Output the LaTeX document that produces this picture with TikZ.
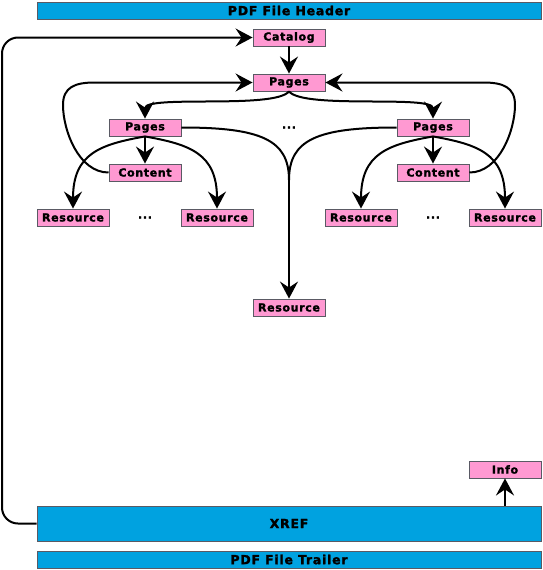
\documentclass[tikz,border=0pt]{standalone}
\usepackage{fontspec}
\usetikzlibrary{arrows.meta}
\newfontfamily\labelfont{DejaVu Sans Bold}[LetterSpace=6, FakeBold=1.8]
\definecolor{barblue}{RGB}{0,162,224}
\definecolor{objpink}{RGB}{255,153,210}
\definecolor{edgegray}{RGB}{90,90,100}
\tikzset{
  obj/.style={draw=edgegray, line width=0.9pt, fill=objpink, minimum width=72pt,
    minimum height=17pt, inner sep=0pt, font=\labelfont\fontsize{11}{12}\selectfont},
  bar/.style={draw=edgegray, line width=0.9pt, fill=barblue, minimum width=504pt,
    minimum height=17pt, inner sep=0pt, font=\labelfont\fontsize{12.5}{13}\selectfont},
  dots/.style={inner sep=0pt, font=\labelfont\fontsize{11}{12}\selectfont},
  link/.style={line width=2pt, black},
  arr/.style={link, -{Stealth[length=17pt,width=18pt,inset=6pt]}},
}
\begin{document}
\begin{tikzpicture}[x=1pt,y=-1pt]
\useasboundingbox (0,0) rectangle (542,570);

% file sections
\node[bar] (hdr) at (289,10.5) {PDF File Header};
\node[bar, minimum height=35pt] (xref) at (289,523.5) {XREF};
\node[bar] (trl) at (289,559.5) {PDF File Trailer};

% object tree
\node[obj] (cat) at (289,37.5) {Catalog};
\node[obj] (pg) at (289,82.5) {Pages};
\node[obj] (lpg) at (145,127.5) {Pages};
\node[obj] (rpg) at (433,127.5) {Pages};
\node[dots] (mdots) at (289,127.5) {...};
\node[obj] (lct) at (145,172.5) {Content};
\node[obj] (rct) at (433,172.5) {Content};
\node[obj] (r1) at (73,217.5) {Resource};
\node[obj] (r2) at (217,217.5) {Resource};
\node[obj] (r3) at (361,217.5) {Resource};
\node[obj] (r4) at (505,217.5) {Resource};
\node[dots] (ldots) at (145,217.5) {...};
\node[dots] (rdots) at (433,217.5) {...};
\node[obj] (rb) at (289,307.5) {Resource};
\node[obj] (info) at (505,469.5) {Info};

\coordinate (lc) at (2,0);
\coordinate (mrg) at (289,180);

% connectors
\draw[arr, rounded corners=16pt] (xref.west) -| (lc |- cat.west) -- (cat.west);
\draw[arr] (xref.north -| info.south) -- (info.south);
\draw[arr] (cat) -- (pg);

\draw[arr] (pg.south) .. controls +(-15,18) and +(0,-24) .. (lpg.north);
\draw[arr] (pg.south) .. controls +(15,18) and +(0,-24) .. (rpg.north);

\draw[arr] (lct.west) .. controls +(-30,0) and +(0,25) .. (63,105)
  .. controls +(0,-18) and +(-20,0) .. (95,82.5) -- (pg.west);
\draw[arr] (rct.east) .. controls +(30,0) and +(0,25) .. (515,105)
  .. controls +(0,-18) and +(20,0) .. (483,82.5) -- (pg.east);

\draw[arr] (lpg.south) -- (lct.north);
\draw[arr] (rpg.south) -- (rct.north);
\draw[arr] (lpg.south) .. controls +(-45,8) and +(0,-55) .. (r1.north);
\draw[arr] (lpg.south) .. controls +(45,8) and +(0,-55) .. (r2.north);
\draw[arr] (rpg.south) .. controls +(-45,8) and +(0,-55) .. (r3.north);
\draw[arr] (rpg.south) .. controls +(45,8) and +(0,-55) .. (r4.north);

\draw[link] (lpg.east) .. controls +(80,0) and +(0,-40) .. (mrg);
\draw[link] (rpg.west) .. controls +(-80,0) and +(0,-40) .. (mrg);
\draw[arr] (mrg) -- (rb.north);
\end{tikzpicture}
\end{document}
